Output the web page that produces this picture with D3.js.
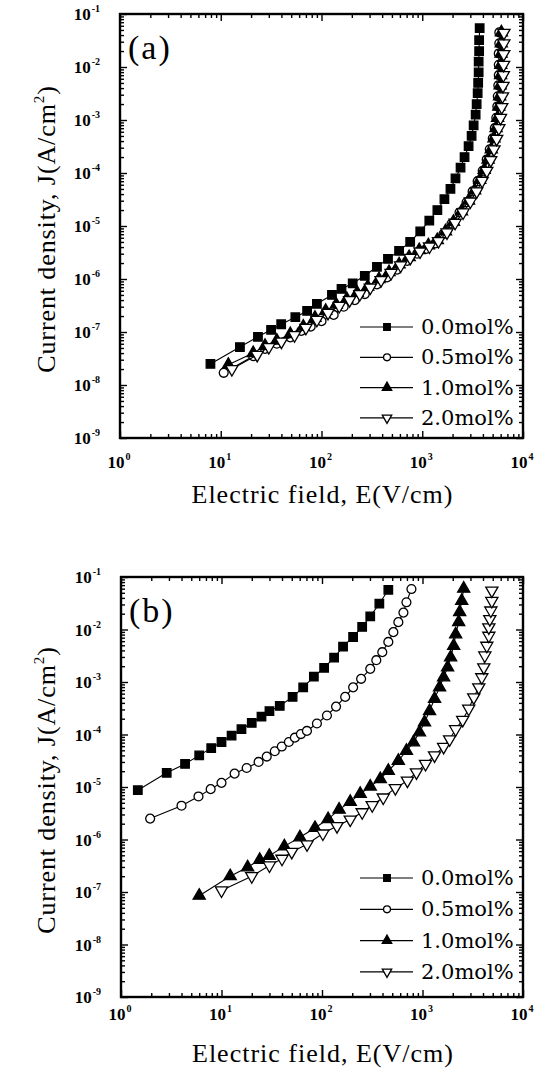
<!DOCTYPE html>
<html>
<head>
<meta charset="utf-8">
<script src="https://cdn.jsdelivr.net/npm/d3@7"></script>
<style>
  body { margin: 0; background: #fff; }
  svg text { fill: #000; }
</style>
</head>
<body>
<svg id="chart" width="547" height="1075"></svg>
<script>
// series names / legend
const seriesNames = ["0.0mol%", "0.5mol%", "1.0mol%", "2.0mol%"];
const xDecades = [0, 1, 2, 3, 4];
const yDecades = [-1, -2, -3, -4, -5, -6, -7, -8, -9];

// panel (a) : E (V/cm), J (A/cm2)
const aE00 = [7.9, 15.5, 23.4, 31.6, 39.8, 55, 72, 90, 127, 158, 204, 269, 355, 457, 589, 759, 955, 1175, 1413, 1660, 1905, 2138, 2400, 2630, 2884, 3090, 3236, 3388, 3467, 3548, 3590, 3630, 3630, 3670, 3670, 3715];
const aJ00 = [2.5e-8, 5.2e-8, 8.1e-8, 1.1e-7, 1.4e-7, 1.9e-7, 2.5e-7, 3.4e-7, 5.0e-7, 6.5e-7, 8.3e-7, 1.15e-6, 1.7e-6, 2.4e-6, 3.4e-6, 5.0e-6, 7.9e-6, 1.26e-5, 2.0e-5, 3.2e-5, 5.0e-5, 7.9e-5, 1.26e-4, 2.0e-4, 3.2e-4, 5.0e-4, 7.9e-4, 1.26e-3, 2.0e-3, 3.2e-3, 5.0e-3, 7.9e-3, 1.26e-2, 2.0e-2, 3.2e-2, 5.4e-2];
const aE05 = [10.7, 21, 27.5, 36, 49, 63, 78, 100, 132, 166, 214, 269, 355, 447, 562, 708, 891, 1096, 1349, 1622, 1950, 2344, 2754, 3162, 3548, 3981, 4365, 4677, 5012, 5248, 5433, 5560, 5623, 5690, 5750, 5750, 5750, 5820, 5820];
const aJ05 = [1.7e-8, 3.5e-8, 4.8e-8, 6.0e-8, 7.9e-8, 1.05e-7, 1.26e-7, 1.6e-7, 2.1e-7, 3.0e-7, 4.0e-7, 5.2e-7, 7.9e-7, 1.07e-6, 1.5e-6, 2.2e-6, 3.0e-6, 3.7e-6, 4.7e-6, 7e-6, 1.1e-5, 1.8e-5, 2.8e-5, 4.5e-5, 7e-5, 1.1e-4, 1.8e-4, 2.8e-4, 4.5e-4, 7e-4, 1.1e-3, 1.8e-3, 2.8e-3, 4.5e-3, 7e-3, 1.1e-2, 1.8e-2, 2.8e-2, 4.5e-2];
const aE10 = [11.9, 21, 27.5, 36, 49, 66, 86, 110, 140, 178, 226, 288, 372, 468, 589, 741, 933, 1150, 1410, 1700, 2040, 2450, 2880, 3310, 3720, 4120, 4500, 4840, 5150, 5400, 5600, 5750, 5860, 5930, 5990, 6020, 6050, 6080, 6100];
const aJ10 = [2.4e-8, 4.0e-8, 5.5e-8, 6.9e-8, 9.1e-8, 1.26e-7, 1.86e-7, 2.5e-7, 3.3e-7, 4.2e-7, 5.5e-7, 7.2e-7, 1.0e-6, 1.35e-6, 1.9e-6, 2.6e-6, 3.5e-6, 4.3e-6, 5.4e-6, 7.9e-6, 1.2e-5, 1.9e-5, 3.0e-5, 4.7e-5, 7.4e-5, 1.15e-4, 1.8e-4, 2.8e-4, 4.5e-4, 7e-4, 1.1e-3, 1.8e-3, 2.8e-3, 4.5e-3, 7e-3, 1.1e-2, 1.8e-2, 2.8e-2, 4.5e-2];
const aE20 = [12.9, 23, 30, 40, 54, 70, 90, 116, 150, 190, 240, 305, 390, 490, 610, 760, 950, 1180, 1450, 1760, 2120, 2540, 3000, 3470, 3930, 4370, 4780, 5150, 5480, 5760, 5980, 6150, 6260, 6330, 6380, 6420, 6440, 6460, 6470];
const aJ20 = [2.0e-8, 3.7e-8, 5.2e-8, 6.6e-8, 8.7e-8, 1.2e-7, 1.7e-7, 2.3e-7, 3.1e-7, 4.0e-7, 5.2e-7, 6.9e-7, 9.5e-7, 1.3e-6, 1.8e-6, 2.5e-6, 3.3e-6, 4.1e-6, 5.2e-6, 7.6e-6, 1.15e-5, 1.8e-5, 2.9e-5, 4.5e-5, 7.1e-5, 1.1e-4, 1.75e-4, 2.8e-4, 4.4e-4, 7e-4, 1.1e-3, 1.75e-3, 2.8e-3, 4.4e-3, 7e-3, 1.1e-2, 1.75e-2, 2.8e-2, 4.4e-2];

// panel (b)
const bE00 = [1.47, 2.85, 4.34, 6.0, 7.9, 10, 12.6, 15.8, 20, 25, 30, 38, 51, 65, 83, 105, 132, 162, 204, 251, 302, 372, 457];
const bJ00 = [8.7e-6, 1.86e-5, 2.75e-5, 4.0e-5, 5.5e-5, 7.2e-5, 9.5e-5, 1.26e-4, 1.66e-4, 2.2e-4, 2.8e-4, 3.5e-4, 5.2e-4, 7.9e-4, 1.26e-3, 1.86e-3, 2.9e-3, 4.7e-3, 7.2e-3, 1.12e-2, 1.78e-2, 3.1e-2, 5.7e-2];
const bE05 = [1.95, 4.0, 5.9, 7.8, 10, 13.5, 17.8, 23.4, 28.2, 33.9, 39.8, 46.8, 53.7, 61.7, 70.8, 89, 112, 138, 170, 204, 245, 302, 347, 398, 457, 513, 575, 646, 692, 776];
const bJ05 = [2.5e-6, 4.4e-6, 6.6e-6, 9.1e-6, 1.2e-5, 1.8e-5, 2.3e-5, 3.0e-5, 3.8e-5, 4.8e-5, 5.9e-5, 7.2e-5, 8.7e-5, 1.02e-4, 1.17e-4, 1.62e-4, 2.3e-4, 3.4e-4, 5.2e-4, 7.9e-4, 1.15e-3, 1.78e-3, 2.6e-3, 3.7e-3, 5.8e-3, 8.9e-3, 1.38e-2, 2.1e-2, 3.3e-2, 5.9e-2];
const bE10 = [6.0, 12.2, 18.2, 24, 29.9, 42.2, 60.3, 85.1, 115, 148, 191, 240, 302, 380, 457, 575, 692, 813, 933, 1047, 1175, 1318, 1479, 1622, 1778, 1905, 2042, 2138, 2291, 2344, 2455, 2570];
const bJ10 = [8.5e-8, 2.0e-7, 2.95e-7, 4.1e-7, 4.9e-7, 7.4e-7, 1.1e-6, 1.66e-6, 2.45e-6, 3.7e-6, 5.2e-6, 7.4e-6, 1.02e-5, 1.41e-5, 2.04e-5, 3.16e-5, 4.9e-5, 7.1e-5, 1.1e-4, 1.7e-4, 2.8e-4, 4.8e-4, 7.9e-4, 1.23e-3, 1.9e-3, 2.95e-3, 4.9e-3, 8.1e-3, 1.38e-2, 2.14e-2, 3.5e-2, 6.0e-2];
const bE20 = [10, 20, 30, 40, 50, 71, 102, 141, 191, 251, 316, 407, 537, 708, 871, 1072, 1318, 1622, 1862, 2138, 2512, 2884, 3236, 3631, 3890, 4074, 4169, 4365, 4571, 4571, 4677, 4786, 4898, 4898];
const bJ20 = [1.07e-7, 2.0e-7, 3.2e-7, 4.3e-7, 5.8e-7, 8.1e-7, 1.3e-6, 1.8e-6, 2.4e-6, 3.3e-6, 4.5e-6, 6.3e-6, 9.5e-6, 1.32e-5, 1.9e-5, 2.75e-5, 4.0e-5, 5.8e-5, 8.1e-5, 1.26e-4, 1.9e-4, 3.1e-4, 5.1e-4, 7.9e-4, 1.23e-3, 1.9e-3, 3.2e-3, 4.9e-3, 7.6e-3, 1.1e-2, 1.58e-2, 2.3e-2, 3.5e-2, 5.5e-2];

const panelA = [[aE00, aJ00], [aE05, aJ05], [aE10, aJ10], [aE20, aJ20]];
const panelB = [[bE00, bJ00], [bE05, bJ05], [bE10, bJ10], [bE20, bJ20]];

const svg = d3.select("#chart");
const serif = "'Liberation Serif', 'Times New Roman', serif";
const legendFont = "'DejaVu Serif', serif";

// marker shapes per series
const markers = [
  { type: d3.symbolSquare, fill: "#000", rot: 0, size: 72 },
  { type: d3.symbolCircle, fill: "#fff", rot: 0, size: 62 },
  { type: d3.symbolTriangle, fill: "#000", rot: 0, size: 64 },
  { type: d3.symbolTriangle, fill: "#fff", rot: 180, size: 64 }
];

function drawPanel(cfg, series) {
  const x = d3.scaleLog().domain([1, 1e4]).range([cfg.left, cfg.right]);
  const y = d3.scaleLog().domain([1e-9, 1e-1]).range([cfg.bottom, cfg.top]);
  const g = svg.append("g");

  // minor / major ticks, inward on all four sides
  const majX = xDecades.map(d => Math.pow(10, d));
  const minX = [];
  for (let d = 0; d < 4; d++) for (let k = 2; k <= 9; k++) minX.push(k * Math.pow(10, d));
  const majY = yDecades.map(d => Math.pow(10, d));
  const minY = [];
  for (let d = -9; d < -1; d++) for (let k = 2; k <= 9; k++) minY.push(k * Math.pow(10, d));

  const addAxis = (axis, tr) => {
    const a = g.append("g").attr("transform", tr).call(axis);
    a.select(".domain").remove();
    a.selectAll("line").attr("stroke", "#000").attr("stroke-width", 1.4);
  };
  const h = cfg.bottom - cfg.top, w = cfg.right - cfg.left;
  [[majX, 7], [minX, 4]].forEach(([vals, len]) => {
    addAxis(d3.axisBottom(x).tickValues(vals).tickSize(-len).tickFormat(""), `translate(0,${cfg.bottom})`);
    addAxis(d3.axisTop(x).tickValues(vals).tickSize(-len).tickFormat(""), `translate(0,${cfg.top})`);
  });
  [[majY, 7], [minY, 4]].forEach(([vals, len]) => {
    addAxis(d3.axisLeft(y).tickValues(vals).tickSize(-len).tickFormat(""), `translate(${cfg.left},0)`);
    addAxis(d3.axisRight(y).tickValues(vals).tickSize(-len).tickFormat(""), `translate(${cfg.right},0)`);
  });

  g.append("rect")
    .attr("x", cfg.left).attr("y", cfg.top)
    .attr("width", w).attr("height", h)
    .attr("fill", "none").attr("stroke", "#000").attr("stroke-width", 2.4);

  // tick labels 10^n
  xDecades.forEach(d => {
    const t = g.append("text")
      .attr("x", x(Math.pow(10, d)) - 1).attr("y", cfg.bottom + cfg.xLabOff)
      .attr("text-anchor", "middle")
      .style("font-family", serif).style("font-size", "17px").style("font-weight", "bold");
    t.append("tspan").text("10");
    t.append("tspan").attr("dy", -8).attr("dx", 1).style("font-size", "10px").text(d);
  });
  yDecades.forEach(d => {
    const t = g.append("text")
      .attr("x", cfg.left - 20).attr("y", y(Math.pow(10, d)) + 6)
      .attr("text-anchor", "end")
      .style("font-family", serif).style("font-size", "17px").style("font-weight", "bold");
    t.append("tspan").text("10");
    t.append("tspan").attr("dy", -8).attr("dx", 1).style("font-size", "10px").text(d);
  });

  // axis titles
  g.append("text")
    .attr("x", (cfg.left + cfg.right) / 2 + 1).attr("y", cfg.bottom + 65)
    .attr("text-anchor", "middle")
    .style("font-family", serif).style("font-size", "26px").style("letter-spacing", "1px")
    .text("Electric field, E(V/cm)");
  const yt = g.append("text")
    .attr("transform", `translate(55,${(cfg.top + cfg.bottom) / 2 + 3}) rotate(-90)`)
    .attr("text-anchor", "middle")
    .style("font-family", serif).style("font-size", "26px").style("letter-spacing", "0.9px");
  yt.append("tspan").text("Current density, J(A/cm");
  yt.append("tspan").attr("dy", -11).style("font-size", "15px").text("2");
  yt.append("tspan").attr("dy", 11).text(")");

  // panel letter
  g.append("text")
    .attr("x", cfg.left + 8).attr("y", cfg.top + 45)
    .style("font-family", serif).style("font-size", "34px").style("letter-spacing", "2px")
    .text(cfg.letter);

  // series lines + markers
  const line = d3.line().x(p => x(p[0])).y(p => y(p[1]));
  series.forEach(([E, J], i) => {
    const pts = E.map((e, k) => [e, J[k]]);
    g.append("path").datum(pts)
      .attr("d", line).attr("fill", "none")
      .attr("stroke", "#000").attr("stroke-width", 1.1);
    const m = markers[i];
    g.append("g").selectAll("path").data(pts).join("path")
      .attr("d", d3.symbol().type(m.type).size(m.size))
      .attr("transform", p => `translate(${x(p[0])},${y(p[1])}) rotate(${m.rot})`)
      .attr("fill", m.fill).attr("stroke", "#000").attr("stroke-width", 1.3);
  });

  // legend
  seriesNames.forEach((name, i) => {
    const ly = cfg.legendY + i * cfg.legendStep;
    const m = markers[i];
    g.append("line")
      .attr("x1", 360).attr("x2", 413).attr("y1", ly).attr("y2", ly)
      .attr("stroke", "#000").attr("stroke-width", 1.2);
    g.append("path")
      .attr("d", d3.symbol().type(m.type).size(m.size * 0.6))
      .attr("transform", `translate(387,${ly}) rotate(${m.rot})`)
      .attr("fill", m.fill).attr("stroke", "#000").attr("stroke-width", 1.3);
    g.append("text")
      .attr("x", 421).attr("y", ly + 7)
      .style("font-family", legendFont).style("font-size", "21px")
      .text(name);
  });
}

drawPanel({ letter: "(a)", left: 120, right: 523, top: 14, bottom: 438, xLabOff: 30, legendY: 327, legendStep: 30.3 }, panelA);
drawPanel({ letter: "(b)", left: 121, right: 523, top: 577, bottom: 997, xLabOff: 23, legendY: 878, legendStep: 31.3 }, panelB);
</script>
</body>
</html>
